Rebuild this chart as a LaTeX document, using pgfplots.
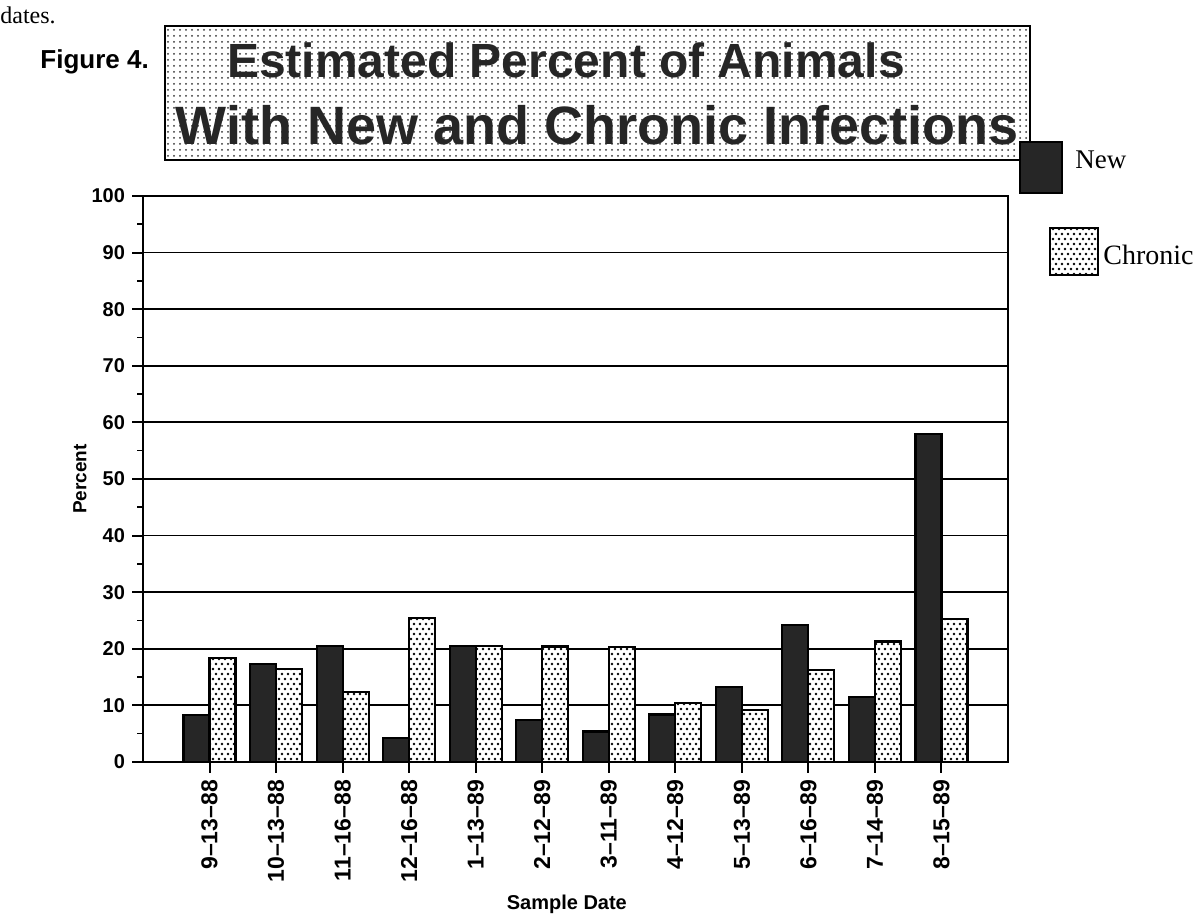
\documentclass[border=0pt]{standalone}
\usepackage{fontspec}
\setmainfont{Liberation Serif}
\setsansfont{Liberation Sans}
\usepackage{pgfplots}
\usepackage{pgfplotstable}
\pgfplotsset{compat=1.18}
\usetikzlibrary{patterns}

\pgfdeclarepatternformonly{bigdots}{\pgfqpoint{-1pt}{-1pt}}{\pgfqpoint{4pt}{6pt}}{\pgfqpoint{3pt}{5pt}}{%
  \pgfpathcircle{\pgfqpoint{0pt}{0pt}}{0.65pt}%
  \pgfpathcircle{\pgfqpoint{1.5pt}{2.5pt}}{0.65pt}%
  \pgfusepath{fill}}

\pgfplotstableread{
x new chronic
0 8.3 18.4
1 17.3 16.4
2 20.5 12.4
3 4.3 25.4
4 20.5 20.5
5 7.4 20.4
6 5.4 20.3
7 8.4 10.4
8 13.2 9.2
9 24.2 16.2
10 11.5 21.3
11 58.0 25.2
}\datatable

\begin{document}
\begin{tikzpicture}
\useasboundingbox (0pt,0pt) rectangle (601.5pt,462pt);
% stray text and figure label
\node[anchor=west, inner sep=0pt, font=\fontsize{12}{14}\selectfont] at (0pt,454.5pt) {dates.};
\node[anchor=west, inner sep=0pt, font=\sffamily\bfseries\fontsize{13}{15}\selectfont] at (20pt,431pt) {Figure 4.};
% title box
\draw[line width=1.3pt, fill=white, postaction={pattern=dots, pattern color=black!80}] (82.5pt,382pt) rectangle (515pt,449pt);
\node[inner sep=0pt, text=black!85, font=\sffamily\bfseries\fontsize{24}{26}\selectfont] at (283pt,432pt) {Estimated Percent of Animals};
\node[inner sep=0pt, text=black!85, font=\sffamily\bfseries\fontsize{27}{29}\selectfont] at (298.5pt,399.5pt) {With New and Chronic Infections};
% legend
\draw[fill=black!85, line width=1pt] (510pt,365.5pt) rectangle (531pt,391pt);
\node[anchor=west, inner sep=0pt, font=\fontsize{13.5}{15}\selectfont] at (537.5pt,382pt) {New};
\draw[fill=white, line width=1.3pt, postaction={pattern=bigdots}] (525pt,324.5pt) rectangle (549pt,348pt);
\node[anchor=west, inner sep=0pt, font=\fontsize{14}{16}\selectfont] at (551.5pt,334.5pt) {Chronic};

\begin{axis}[
  at={(71.5pt,81pt)}, anchor=south west,
  scale only axis, width=432.5pt, height=283pt,
  xmin=-1, xmax=12, ymin=0, ymax=100,
  ybar=0pt, bar width=13pt,
  xtick={0,...,11},
  xticklabels={9–13–88,10–13–88,11–16–88,12–16–88,1–13–89,2–12–89,3–11–89,4–12–89,5–13–89,6–16–89,7–14–89,8–15–89},
  x tick label style={rotate=90, anchor=east, font=\sffamily\bfseries\fontsize{11.5}{11.5}\selectfont},
  ytick={0,10,...,100},
  minor ytick={5,15,...,95},
  y tick label style={font=\sffamily\bfseries\fontsize{10}{10}\selectfont},
  /pgf/number format/assume math mode=true,
  xtick pos=left, ytick pos=left,
  tick align=outside,
  major tick length=5.5pt,
  minor tick length=3pt,
  tick style={black, line width=1pt},
  minor tick style={black, line width=0.8pt},
  ymajorgrids,
  major grid style={black, line width=0.9pt},
  axis line style={black, line width=1.3pt},
  ylabel={Percent},
  ylabel style={at={(axis description cs:-0.073,0.5)}, anchor=center, font=\sffamily\bfseries\fontsize{9.5}{10}\selectfont},
  xlabel={Sample Date},
  xlabel style={at={(axis description cs:0.49,-0.251)}, anchor=center, font=\sffamily\bfseries\fontsize{10}{12}\selectfont},
]
\addplot[draw=black, line width=1.1pt, fill=black!85] table[x=x, y=new] {\datatable};
\addplot[draw=black, line width=1.1pt, fill=white, postaction={pattern=bigdots}] table[x=x, y=chronic] {\datatable};
\end{axis}
\end{tikzpicture}
\end{document}
